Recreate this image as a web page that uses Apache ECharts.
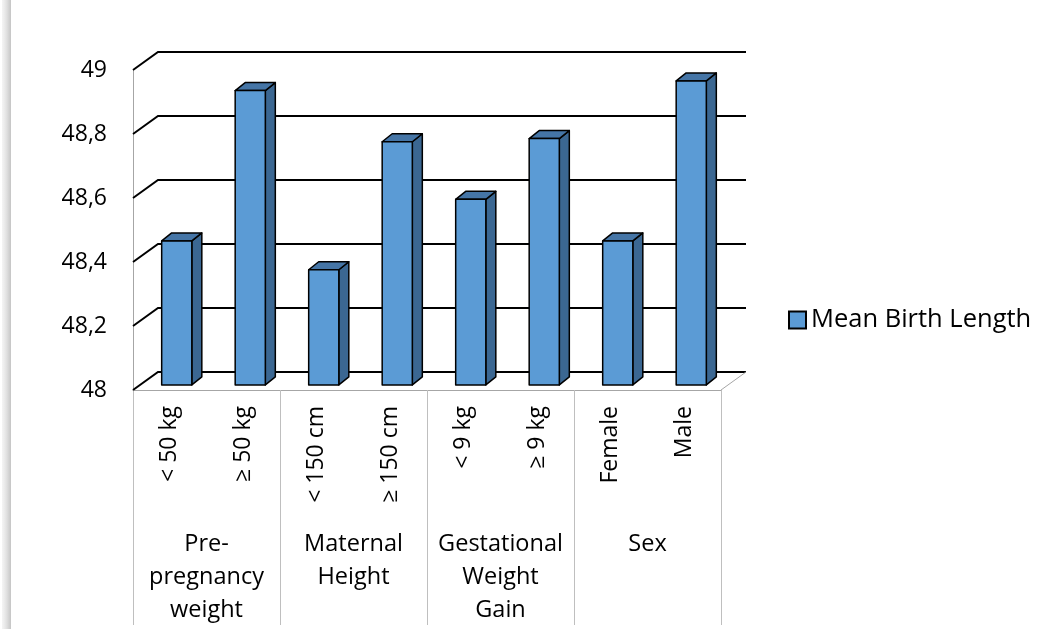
<!DOCTYPE html>
<html>
<head>
<meta charset="utf-8">
<script src="https://cdn.jsdelivr.net/npm/echarts@6/dist/echarts.min.js"></script>
<style>
  html, body { margin: 0; padding: 0; background: #fff; }
  #chart { width: 1053px; height: 629px; }
</style>
</head>
<body>
<div id="chart"></div>
<script>
// data
const categories = ['< 50 kg', '≥ 50 kg', '< 150 cm', '≥ 150 cm', '< 9 kg', '≥ 9 kg', 'Female', 'Male'];
const groups = ['Pre-\npregnancy\nweight', 'Maternal\nHeight', 'Gestational\nWeight\nGain', 'Sex'];
const meanBirthLength = [48.45, 48.92, 48.36, 48.76, 48.58, 48.77, 48.45, 48.95];
const yTicks = [48, 48.2, 48.4, 48.6, 48.8, 49];
const seriesName = 'Mean Birth Length';

// 3D look (pixels)
const DEPTH_X = 25, DEPTH_Y = -18;     // front wall -> back wall
const BAR_PLANE = 0.28;                 // where the bar front face sits
const BAR_DX = 10, BAR_DY = -8;         // bar thickness
const FONT = 'Open Sans';

const chart = echarts.init(document.getElementById('chart'));

function fmtTick(v) {
  return Number.isInteger(v) ? String(v) : v.toFixed(1).replace('.', ',');
}

function renderWall(params, api) {
  const cs = params.coordSys;
  const v = api.value(1);
  const y = api.coord([0, v])[1];
  const children = [{
    type: 'polyline',
    shape: { points: [[cs.x, y], [cs.x + DEPTH_X, y + DEPTH_Y], [cs.x + cs.width + DEPTH_X, y + DEPTH_Y]] },
    style: { stroke: '#000', lineWidth: 2, fill: null }
  }];
  if (v === yTicks[0]) {
    children.push({
      type: 'line',
      shape: { x1: cs.x + cs.width, y1: y, x2: cs.x + cs.width + DEPTH_X, y2: y + DEPTH_Y },
      style: { stroke: '#a6a6a6', lineWidth: 1 }
    });
  }
  return { type: 'group', children: children };
}

function renderBar(params, api) {
  const i = api.value(0);
  const base = api.coord([i, yTicks[0]]);
  const top = api.coord([i, api.value(1)]);
  const band = api.size([1, 0])[0];
  const w = band * 0.41;
  const ox = DEPTH_X * BAR_PLANE, oy = DEPTH_Y * BAR_PLANE;
  const x0 = base[0] + ox - w / 2, x1 = x0 + w;
  const yb = base[1] + oy, yt = top[1] + oy;
  const line = { stroke: '#000', lineWidth: 1.5, lineJoin: 'round' };
  return {
    type: 'group',
    children: [
      { type: 'polygon', shape: { points: [[x1, yb], [x1 + BAR_DX, yb + BAR_DY], [x1 + BAR_DX, yt + BAR_DY], [x1, yt]] },
        style: Object.assign({ fill: '#3b6792' }, line) },
      { type: 'polygon', shape: { points: [[x0, yt], [x1, yt], [x1 + BAR_DX, yt + BAR_DY], [x0 + BAR_DX, yt + BAR_DY]] },
        style: Object.assign({ fill: '#4575a6' }, line) },
      { type: 'rect', shape: { x: x0, y: yt, width: w, height: yb - yt },
        style: Object.assign({ fill: '#5b9bd5' }, line) }
    ]
  };
}

const option = {
  backgroundColor: '#fff',
  animation: false,
  textStyle: { fontFamily: FONT },
  graphic: [{
    type: 'rect',
    shape: { x: 2, y: 0, width: 9, height: 629 },
    style: {
      fill: new echarts.graphic.LinearGradient(0, 0, 1, 0, [
        { offset: 0, color: 'rgba(220,220,220,0.3)' },
        { offset: 1, color: 'rgba(190,190,190,0.9)' }
      ])
    },
    silent: true
  }],
  grid: { left: 133, top: 70, width: 588, height: 320 },
  legend: {
    data: [seriesName],
    left: 783, top: 302,
    icon: 'rect', itemWidth: 17, itemHeight: 17, itemGap: 6,
    textStyle: { fontSize: 25.5, color: '#000', fontFamily: FONT }
  },
  xAxis: [{
    type: 'category',
    data: categories,
    axisLine: { lineStyle: { color: '#a6a6a6', width: 1 } },
    axisTick: { show: false },
    axisLabel: { interval: 0, rotate: 90, margin: 16, fontSize: 23, color: '#000', fontFamily: FONT }
  }, {
    type: 'category',
    data: groups,
    position: 'bottom',
    offset: 0,
    axisLine: { show: false },
    axisTick: { show: true, length: 235, lineStyle: { color: '#bfbfbf', width: 1 } },
    axisLabel: { interval: 0, margin: 138, fontSize: 23.5, lineHeight: 33, color: '#000', fontFamily: FONT, align: 'center' }
  }],
  yAxis: {
    type: 'value',
    min: yTicks[0], max: yTicks[yTicks.length - 1], interval: 0.2,
    axisLine: { show: true, lineStyle: { color: '#a6a6a6', width: 1 } },
    axisTick: { show: false },
    splitLine: { show: false },
    axisLabel: { margin: 26, fontSize: 23, color: '#000', fontFamily: FONT, formatter: fmtTick }
  },
  series: [{
    type: 'custom',
    name: 'walls',
    renderItem: renderWall,
    data: yTicks.map(v => [0, v]),
    encode: { x: 0, y: 1 },
    silent: true,
    z: 1
  }, {
    type: 'custom',
    name: seriesName,
    renderItem: renderBar,
    data: meanBirthLength.map((v, i) => [i, v]),
    encode: { x: 0, y: 1 },
    itemStyle: { color: '#5b9bd5', borderColor: '#000', borderWidth: 1.5 },
    z: 3
  }]
};

chart.setOption(option);
</script>
</body>
</html>
